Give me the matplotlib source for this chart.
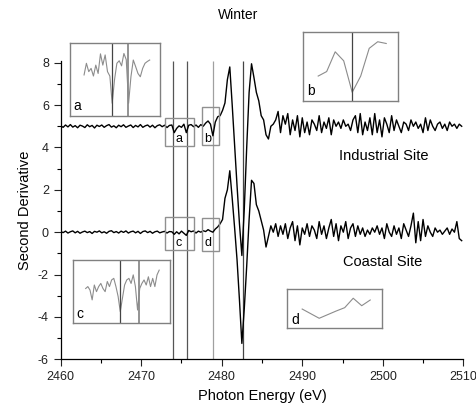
import numpy as np
import matplotlib
matplotlib.use('Agg')
import matplotlib.pyplot as plt
from matplotlib.patches import Rectangle

plt.rcParams['font.family'] = ['Liberation Sans', 'DejaVu Sans']
plt.rcParams['axes.unicode_minus'] = False

# ===== main spectra, second derivative, sampled every 0.3 eV from 2460 eV
energy = np.round(2460 + 0.3 * np.arange(167), 2)

industrial = [
    # 2460 - 2473.8 (flat)
    0.02, -0.05, 0.06, -0.03, 0.08, -0.04, 0.03, -0.07, 0.05, 0.01,
    -0.06, 0.07, -0.02, 0.04, -0.08, 0.05, -0.01, 0.06, -0.05, 0.03,
    0.08, -0.04, 0.02, -0.07, 0.05, -0.02, 0.07, -0.05, 0.01, 0.06,
    -0.06, 0.04, -0.03, 0.08, -0.05, 0.02, 0.06, -0.04, 0.05, -0.07,
    0.03, 0.07, -0.02, 0.05, -0.06, 0.04, 0.06,
    # 2474.1 - 2479.8 (pre-edge)
    -0.30, -0.10, 0.02, -0.05, 0.10, -0.30, 0.05, 0.08, -0.02, 0.06,
    -0.05, 0.08, 0.00, 0.15, 0.25, 0.10, -0.45, 0.20, 0.45, 0.50,
    # 2480.1 - 2486.7 (white line)
    0.75, 1.10, 2.20, 2.80, 1.00, -0.90, -2.80, -4.60, -6.10, -3.90,
    -1.00, 1.60, 2.95, 2.30, 1.60, 1.20, 0.50, 0.30, -0.40, -0.60,
    0.00, 0.10, 0.30,
    # 2487.0 - 2509.8
    0.70, -0.30, 0.50, 0.10, 0.60, -0.40, 0.30, -0.20, 0.50, -0.50,
    0.40, -0.30, 0.20, -0.40, 0.30, 0.10, -0.20, 0.50, -0.30, 0.20,
    -0.10, 0.40, -0.40, 0.30, 0.00, 0.20, -0.10, 0.30, 0.00, 0.10,
    -0.20, 0.30, 0.50, -0.30, 0.60, -0.40, 0.20, -0.20, 0.40, -0.40,
    0.60, -0.30, 0.30, -0.50, 0.40, 0.10, -0.30, 0.50, -0.20, 0.30,
    0.00, -0.30, 0.20, 0.10, -0.20, 0.30, 0.00, 0.20, -0.10, 0.10,
    -0.30, 0.40, -0.20, 0.30, 0.00, -0.20, 0.10, 0.20, -0.10, 0.10,
    -0.20, 0.20, 0.00, 0.10, -0.10, 0.10, 0.00,
]

coastal = [
    # 2460 - 2473.8
    0.03, -0.02, 0.05, -0.04, 0.02, 0.06, -0.03, 0.04, -0.05, 0.01,
    0.05, -0.02, 0.03, -0.06, 0.04, 0.00, 0.06, -0.03, 0.02, -0.05,
    0.04, 0.07, -0.02, 0.03, -0.04, 0.05, -0.01, 0.06, -0.04, 0.02,
    0.05, -0.03, 0.04, -0.06, 0.03, 0.06, -0.02, 0.04, -0.05, 0.02,
    0.05, -0.03, 0.01, 0.04, -0.04, 0.03, 0.02,
    # 2474.1 - 2479.8
    -0.10, 0.02, -0.08, 0.05, -0.05, -0.15, 0.08, 0.02, 0.06, -0.04,
    0.05, 0.00, 0.07, 0.03, 0.12, 0.05, 0.00, 0.15, 0.25, 0.40,
    # 2480.1 - 2486.4
    0.60, 1.60, 2.00, 2.90, 1.60, 0.20, -1.30, -3.20, -5.25, -3.60,
    -1.60, 0.60, 2.45, 2.30, 1.30, 1.00, 0.55, 0.10, -0.70, -0.20,
    0.30, 0.00,
    # 2486.7 - 2509.8
    0.40, -0.20, 0.30, -0.10, 0.40, -0.30, 0.20, 0.50, -0.40, 0.30,
    -0.60, 0.20, -0.10, 0.40, -0.20, 0.30, 0.10, -0.30, 0.50, -0.10,
    0.30, -0.30, 0.20, 0.60, -0.20, 0.40, -0.40, 0.30, 0.00, 0.50,
    -0.30, 0.20, 0.40, -0.20, 0.30, -0.10, 0.20, -0.20, 0.10, -0.10,
    0.20, 0.00, 0.30, -0.10, 0.20, -0.30, 0.40, 0.00,
    -0.20, 0.30, -0.10, 0.20, -0.30, 0.40, 0.10, -0.20, 0.30, 0.90,
    -0.50, 0.50, -0.40, 0.60, -0.20, 0.30, 0.00, -0.20, 0.20, 0.00,
    0.10, -0.10, 0.05, 0.20, -0.10, 0.15, 0.00, 0.50, -0.30, -0.40,
]
n = min(len(energy), len(industrial), len(coastal))

industrial_offset = 5

# marker lines (eV)
markers = [2474.0, 2475.7, 2478.9, 2482.6]
marker_colors = ['#555555', '#555555', '#a0a0a0', '#444444']

# ===== inset data (zoomed views)
inset_a_x = np.round(2471.0 + 0.25 * np.arange(29), 2)
inset_a_y = [0.13, 0.45, 0.22, 0.31, 0.10, 0.40, 0.17, 0.71, 0.40, 0.68,
             0.22, 0.10, -0.65, 0.00, 0.45, 0.52, 0.38, 0.72, 0.55, -0.65,
             0.08, 0.54, 0.36, 0.17, 0.08, 0.31, 0.45, 0.50, 0.54]

inset_c_x = np.round(2470.8 + 0.2 * np.arange(35), 2)
inset_c_y = [0.10, 0.16, 0.05, -0.26, 0.21, 0.00, 0.16, 0.26, 0.10, 0.00,
             0.32, 0.16, 0.37, 0.42, 0.16, -0.15, -0.63, -0.21, 0.21, 0.37,
             0.42, 0.26, 0.53, 0.16, -0.58, 0.10, 0.26, 0.37, 0.21, 0.47,
             0.16, 0.42, 0.16, 0.53, 0.68]

inset_b_x = [2478.1, 2478.3, 2478.5, 2478.7, 2478.9, 2479.1, 2479.3, 2479.5, 2479.7]
inset_b_y = [-0.28, -0.15, 0.42, 0.16, -0.75, -0.28, 0.52, 0.71, 0.66]

inset_d_x = [2478.1, 2478.5, 2478.9, 2479.1, 2479.3, 2479.5, 2479.7]
inset_d_y = [-0.02, -0.49, -0.12, 0.05, 0.53, 0.15, 0.44]

# ===== figure
W, H = 476, 405
fig = plt.figure(figsize=(W / 100, H / 100), dpi=100)


def px_axes(x0, y0, x1, y1):
    # rectangle in pixel coordinates (origin top-left)
    return [x0 / W, 1 - y1 / H, (x1 - x0) / W, (y1 - y0) / H]


ax = fig.add_axes(px_axes(60.7, 60.6, 463.3, 359.3))
ax.plot(energy[:n], np.array(industrial[:n]) + industrial_offset, color='black', lw=1.0, zorder=3)
ax.plot(energy[:n], np.array(coastal[:n]), color='black', lw=1.0, zorder=3)

for m, c in zip(markers, marker_colors):
    ax.vlines(m, -6, 8.1, color=c, lw=0.9, zorder=2)

box_color = '#909090'
boxes = [('a', 2473.0, 4.05, 3.5, 1.35, 2474.7, 4.42),
         ('b', 2477.6, 4.10, 2.1, 1.80, 2478.3, 4.42),
         ('c', 2473.0, -0.82, 3.5, 1.54, 2474.7, -0.50),
         ('d', 2477.6, -0.88, 2.0, 1.53, 2478.3, -0.50)]
for lab, bx, by, bw, bh, tx, ty in boxes:
    ax.add_patch(Rectangle((bx, by), bw, bh, fill=False, ec=box_color, lw=1.0, zorder=4))
    ax.text(tx, ty, lab, ha='center', va='center', fontsize=9, zorder=5)

ax.text(2500.1, 3.6, 'Industrial Site', ha='center', va='center', fontsize=10.5)
ax.text(2500.0, -1.4, 'Coastal Site', ha='center', va='center', fontsize=10.5)

ax.set_xlim(2460, 2510)
ax.set_ylim(-6, 8.1)
ax.set_xticks(np.arange(2460, 2511, 10))
ax.set_xticks(np.arange(2465, 2510, 10), minor=True)
ax.set_yticks(np.arange(-6, 9, 2))
ax.set_yticks(np.arange(-5, 8, 2), minor=True)
ax.tick_params(direction='out', length=5, width=0.8, labelsize=9, colors='#222222')
ax.tick_params(which='minor', direction='out', length=3, width=0.8)
for s in ['top', 'right']:
    ax.spines[s].set_visible(False)
for s in ['left', 'bottom']:
    ax.spines[s].set_linewidth(0.9)
ax.set_xlabel('Photon Energy (eV)', fontsize=10.5)
ax.set_ylabel('Second Derivative', fontsize=10.5)

fig.text(0.5, 1 - 15 / H, 'Winter', ha='center', va='center', fontsize=10)

# ===== insets
insets = [
    ('a', px_axes(70, 43.3, 160, 116), (2469.5, 2479.1), inset_a_x, inset_a_y, [2474.0, 2475.7]),
    ('b', px_axes(303.3, 31.7, 397.7, 101), (2477.75, 2479.97), inset_b_x, inset_b_y, [2478.9]),
    ('c', px_axes(72.7, 260, 170, 323.3), (2469.6, 2478.6), inset_c_x, inset_c_y, [2474.0, 2475.7]),
    ('d', px_axes(287.3, 289, 381.7, 328.3), (2477.75, 2479.97), inset_d_x, inset_d_y, []),
]
inset_line_colors = ['#444444', '#8a8a8a']
for lab, rect, xl, ix, iy, vl in insets:
    iax = fig.add_axes(rect)
    iax.plot(ix, iy, color='#8c8c8c', lw=0.8)
    for k, v in enumerate(vl):
        iax.axvline(v, color=inset_line_colors[k % 2], lw=0.9 + 0.4 * k)
    iax.set_xlim(*xl)
    iax.set_ylim(-1, 1)
    iax.set_xticks([])
    iax.set_yticks([])
    for s in iax.spines.values():
        s.set_edgecolor('#808080')
        s.set_linewidth(1.0)
    iax.text(0.04, 0.04, lab, transform=iax.transAxes, ha='left', va='bottom', fontsize=10)

fig.savefig('out.png', dpi=100)
